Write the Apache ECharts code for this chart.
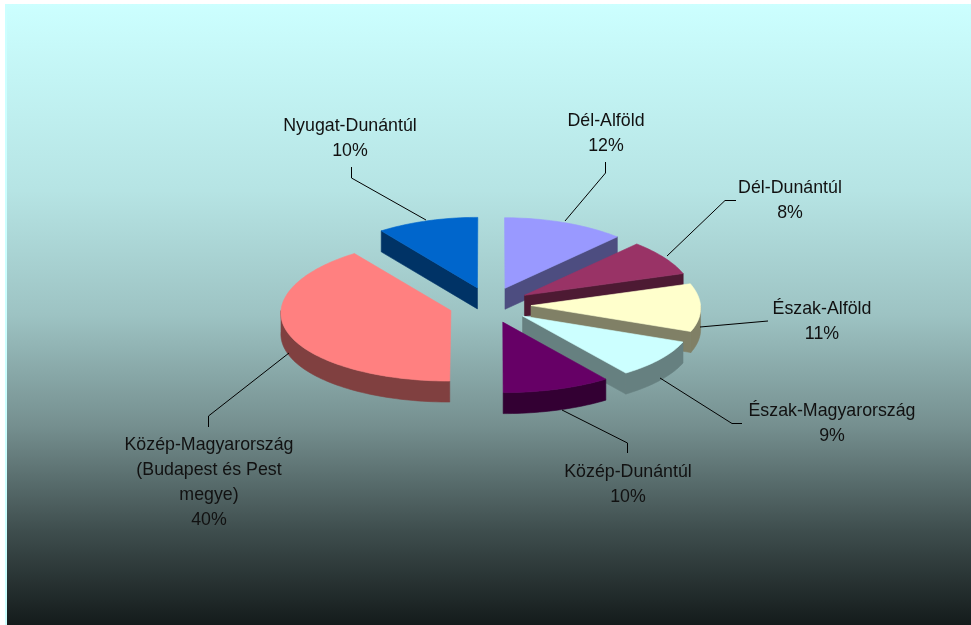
<!DOCTYPE html>
<html><head><meta charset="utf-8">
<style>html,body{margin:0;padding:0;background:#fff}#c{width:971px;height:625px}</style>
<script src="https://cdn.jsdelivr.net/npm/echarts@6/dist/echarts.min.js"></script>
</head><body><div id="c"></div>
<script>
// Data, clockwise from 12 o'clock
const categories = ['Dél-Alföld','Dél-Dunántúl','Észak-Alföld','Észak-Magyarország','Közép-Dunántúl','Közép-Magyarország\n(Budapest és Pest\nmegye)','Nyugat-Dunántúl'];
const shares = [12,8,11,9,10,40,10];
const topColors = ['#9999FF','#993366','#FFFFCC','#CCFFFF','#660066','#FF8080','#0066CC'];
const sideColors = ['#4D4D80','#4D1A33','#808066','#668080','#330033','#804040','#003366'];

// Layout of the tilted pie (perspective widens what is nearer the viewer)
const pie = {cx:490, cy:305, rx:169.5, ry:70.5, explodeX:41, explodeY:18, depth:21, perspective:0.03};
// Annotation layout (label centres and leader paths)
const labelCenters = [[606,134],[790,201],[822,322],[832,424],[628,485],[209,483],[350,139]];
const leaderPaths = [
  [[605.5,162],[605.5,173],[565,221]],
  [[736,200.5],[725,200.5],[667,256]],
  [[768,321],[700,327]],
  [[742,423.5],[732,423.5],[660,378]],
  [[627.5,453],[627.5,443],[562,410]],
  [[208.5,427],[208.5,416],[289,353]],
  [[351.5,167],[351.5,178],[426,220]]
];

const total = shares.reduce((a,b)=>a+b,0);
let acc = 0;
const slices = shares.map((v,i)=>{
  const start = acc/total*360; acc += v; const end = acc/total*360;
  const mid = (start+end)/2*Math.PI/180;
  return {i,start,end,mid,
    ax: pie.cx+pie.explodeX*Math.sin(mid),
    ay: pie.cy-pie.explodeY*Math.cos(mid)};
});
const paintOrder = slices.slice().sort((a,b)=>a.ay-b.ay).map(s=>s.i);

function project(x,y,dz){
  const k = 1+pie.perspective*(y-pie.cy)/pie.ry;
  return [pie.cx+(x-pie.cx)*k, y+(dz||0)];
}
function pt(s,deg,dz){
  const t=deg*Math.PI/180;
  return project(s.ax+pie.rx*Math.sin(t), s.ay-pie.ry*Math.cos(t), dz);
}
function poly(points,color){
  return {type:'polygon',shape:{points},style:{fill:color,stroke:color,lineWidth:0.6}};
}
function arc(s,a,b,dz){
  const n=Math.max(2,Math.ceil((b-a)/1.5)), out=[];
  for(let k=0;k<=n;k++) out.push(pt(s,a+(b-a)*k/n,dz));
  return out;
}
function renderSlice(params,api){
  const s=slices[api.value(0)], side=sideColors[s.i], top=topColors[s.i], ch=[];
  const d=pie.depth, apex=project(s.ax,s.ay), apexLow=project(s.ax,s.ay,d);
  const radial=deg=>poly([apex,pt(s,deg),pt(s,deg,d),apexLow],side);
  if(Math.sin(s.start*Math.PI/180)<-1e-6) ch.push(radial(s.start));
  if(Math.sin(s.end*Math.PI/180)>1e-6) ch.push(radial(s.end));
  const a=Math.max(s.start,90), b=Math.min(s.end,270);
  if(b>a) ch.push(poly(arc(s,a,b,0).concat(arc(s,a,b,d).reverse()),side));
  ch.push(poly([apex].concat(arc(s,s.start,s.end,0)),top));
  return {type:'group',children:ch};
}
function renderNote(params,api){
  const i=api.value(0);
  return {type:'group',children:[
    {type:'polyline',shape:{points:leaderPaths[i]},style:{fill:'none',stroke:'#000',lineWidth:1}},
    {type:'text',x:labelCenters[i][0],y:labelCenters[i][1],style:{
      text:categories[i]+'\n'+shares[i]+'%',fill:'#111',align:'center',verticalAlign:'middle',
      font:'17.8px "Liberation Sans", Arial, sans-serif',lineHeight:25}}
  ]};
}
const chart=echarts.init(document.getElementById('c'),null,{renderer:'canvas'});
chart.setOption({
  animation:false,
  graphic:[
    {type:'rect',z:-2,silent:true,shape:{x:5,y:4,width:2,height:621},style:{fill:'#CCFFFF'}},
    {type:'rect',z:-1,silent:true,shape:{x:7,y:4,width:964,height:621},style:{fill:{
    type:'linear',x:0,y:0,x2:0,y2:1,colorStops:[
      {offset:0,color:'#CCFFFF'},{offset:0.3,color:'#B6E4E4'},{offset:0.5,color:'#9DC3C3'},
      {offset:0.68,color:'#758F8F'},{offset:0.85,color:'#3E4D4D'},{offset:1,color:'#141B1B'}]}}}],
  series:[
    {type:'custom',coordinateSystem:'none',silent:true,z:2,renderItem:renderSlice,data:paintOrder.map(i=>[i])},
    {type:'custom',coordinateSystem:'none',silent:true,z:3,renderItem:renderNote,data:categories.map((c,i)=>[i])}
  ]
});
</script></body></html>
